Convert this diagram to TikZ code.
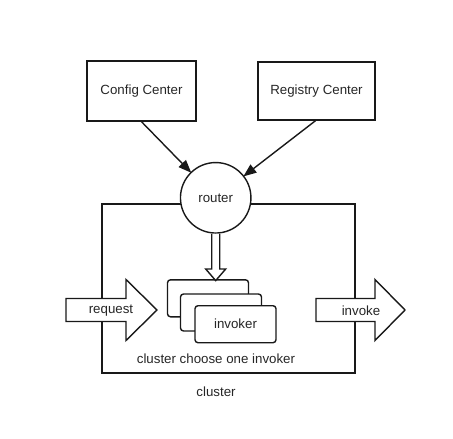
\documentclass[tikz,border=0pt]{standalone}
\usepackage{fontspec}
\setmainfont{Liberation Sans}
\usetikzlibrary{arrows.meta}
\begin{document}
\begin{tikzpicture}[x=1pt,y=-1pt,
  every node/.style={font=\fontsize{13.3}{16}\selectfont, text=black!85},
  line/.style={draw=black!90, line width=1.4pt},
  box/.style={line, rectangle, inner sep=0pt},
  invbox/.style={line, rectangle, rounded corners=3pt, fill=white, minimum width=81pt, minimum height=37pt, inner sep=0pt},
  conn/.style={line, -{Triangle[length=13pt,width=10pt]}, shorten >=-1pt},
  bigarrow/.style={line, fill=white, line join=miter}
]
\useasboundingbox (0,0) rectangle (453,439);
% top boxes
\node[box, minimum width=109pt, minimum height=60pt] (config) at (141.5,91) {Config Center};
\node[box, minimum width=117pt, minimum height=58pt] (registry) at (316.5,91) {Registry Center};
% cluster rectangle
\node[box, minimum width=253pt, minimum height=169pt] (cluster) at (228.5,288.5) {};
\node (clusterlabel) at (216,392) {cluster};
\node (choose) at (216,359) {cluster choose one invoker};
% router
\node[line, circle, fill=white, minimum size=70.5pt, inner sep=0pt] (router) at (215.7,197.8) {router};
% connectors
\draw[conn] (config.south) -- (router);
\draw[conn] ([xshift=-1pt]registry.south) -- (router);
% invokers
\node[invbox] (inv1) at (208,298.3) {};
\node[invbox] (inv2) at (221,312.5) {};
\node[invbox] (inv3) at (235.5,324.2) {invoker};
% hollow arrow router -> invokers
\coordinate (ds) at (router.south);
\coordinate (dt) at ([yshift=-1.5pt]inv1.north -| router.south);
\draw[bigarrow] ([xshift=-4pt]ds) -- ([xshift=-4pt]dt |- 0,269) -- ([xshift=-10pt]dt |- 0,269) -- (dt) -- ([xshift=10pt]dt |- 0,269) -- ([xshift=4pt]dt |- 0,269) -- ([xshift=4pt]ds);
% request arrow
\draw[bigarrow] (66,298.5) -- (126,298.5) -- (126,279.5) -- (157,310) -- (126,340.5) -- (126,321.5) -- (66,321.5) -- cycle;
\node (request) at (111,310.5) {request};
% invoke arrow
\draw[bigarrow] (316,298.5) -- (375,298.5) -- (375,279.5) -- (405,310) -- (375,340.5) -- (375,321.5) -- (316,321.5) -- cycle;
\node (invoke) at (361,310.5) {invoke};
\end{tikzpicture}
\end{document}
